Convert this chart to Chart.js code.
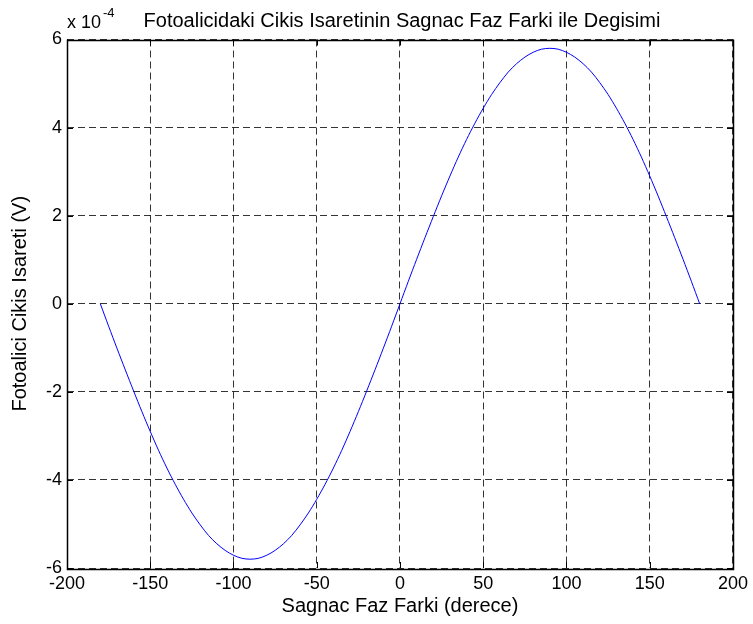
<!DOCTYPE html>
<html>
<head>
<meta charset="utf-8">
<script src="https://cdn.jsdelivr.net/npm/chart.js@4"></script>
<style>
  html, body { margin: 0; padding: 0; background: #fff; }
  #wrap { width: 753px; height: 624px; }
</style>
</head>
<body>
<div id="wrap"><canvas id="chart" width="753" height="624"></canvas></div>
<script>
// phase difference in degrees
const phaseDeg = [
  -180, -175, -170, -165, -160, -155, -150, -145, -140, -135, -130, -125,
  -120, -115, -110, -105, -100, -95, -90, -85, -80, -75, -70, -65, -60, -55,
  -50, -45, -40, -35, -30, -25, -20, -15, -10, -5, 0, 5, 10, 15, 20, 25, 30,
  35, 40, 45, 50, 55, 60, 65, 70, 75, 80, 85, 90, 95, 100, 105, 110, 115,
  120, 125, 130, 135, 140, 145, 150, 155, 160, 165, 170, 175, 180
];

// photodetector output, in units of 1e-4 V
const outputVolts = [
  0, -0.51, -1.01, -1.50, -1.98, -2.45, -2.90, -3.33, -3.73, -4.10, -4.44, -4.75,
  -5.02, -5.26, -5.45, -5.60, -5.71, -5.78, -5.80, -5.78, -5.71, -5.60, -5.45, -5.26,
  -5.02, -4.75, -4.44, -4.10, -3.73, -3.33, -2.90, -2.45, -1.98, -1.50, -1.01, -0.51,
  0, 0.51, 1.01, 1.50, 1.98, 2.45, 2.90, 3.33, 3.73, 4.10, 4.44, 4.75,
  5.02, 5.26, 5.45, 5.60, 5.71, 5.78, 5.80, 5.78, 5.71, 5.60, 5.45, 5.26,
  5.02, 4.75, 4.44, 4.10, 3.73, 3.33, 2.90, 2.45, 1.98, 1.50, 1.01, 0.51, 0
];

const xTicks = [-200, -150, -100, -50, 0, 50, 100, 150, 200];
const yTicks = [-6, -4, -2, 0, 2, 4, 6];

const chartTitle = "Fotoalicidaki Cikis Isaretinin Sagnac Faz Farki ile Degisimi";

const FONT = "'Liberation Sans', Arial, Helvetica, sans-serif";

// MATLAB-like frame: solid box, inward ticks, title and exponent label
const boxPlugin = {
    id: "matlabBox",
    afterDraw(chart) {
        const { ctx, chartArea: a, scales } = chart;
        ctx.save();
        ctx.strokeStyle = "#000";
        ctx.lineWidth = 1;
        ctx.setLineDash([]);
        ctx.beginPath();
        xTicks.forEach((v) => {
            const px = Math.round(scales.x.getPixelForValue(v)) + 0.5;
            ctx.moveTo(px, a.bottom); ctx.lineTo(px, a.bottom - 6);
            ctx.moveTo(px, a.top); ctx.lineTo(px, a.top + 6);
        });
        yTicks.forEach((v) => {
            const py = Math.round(scales.y.getPixelForValue(v)) + 0.5;
            ctx.moveTo(a.left, py); ctx.lineTo(a.left + 6, py);
            ctx.moveTo(a.right, py); ctx.lineTo(a.right - 6, py);
        });
        ctx.stroke();
        ctx.lineWidth = 1.5;
        ctx.strokeRect(Math.round(a.left) + 0.5, Math.round(a.top) + 0.5,
            Math.round(a.right - a.left), Math.round(a.bottom - a.top));

        ctx.fillStyle = "#000";
        ctx.textBaseline = "alphabetic";

        // title centred over the axes
        ctx.textAlign = "center";
        ctx.font = "20px " + FONT;
        ctx.fillText(chartTitle, (a.left + a.right) / 2 + 2, 27);

        // axis exponent
        ctx.textAlign = "left";
        ctx.font = "18px " + FONT;
        ctx.fillText("x 10", a.left, 28);
        const w = ctx.measureText("x 10").width;
        ctx.font = "13px " + FONT;
        ctx.fillText("-4", a.left + w + 2, 17);
        ctx.restore();
    },
};

document.addEventListener("DOMContentLoaded", function () {
    const ctx = document.getElementById("chart");

    new Chart(ctx, {
        type: "line",
        data: {
            datasets: [
                {
                    data: phaseDeg.map((x, i) => ({ x: x, y: outputVolts[i] })),
                    borderColor: "#0000ff",
                    borderWidth: 1,
                    pointRadius: 0,
                    tension: 0.3,
                    fill: false,
                },
            ],
        },
        options: {
            responsive: false,
            animation: false,
            devicePixelRatio: 1,
            layout: { padding: { top: 39.5, right: 17, bottom: 0, left: 0 } },
            plugins: {
                legend: { display: false },
                tooltip: { enabled: false },
                title: { display: false },
            },
            scales: {
                x: {
                    type: "linear",
                    min: -200,
                    max: 200,
                    afterBuildTicks: (s) => { s.ticks = xTicks.map((v) => ({ value: v })); },
                    afterFit: (s) => { s.height = 56; },
                    border: { display: false, dash: [7, 4] },
                    grid: {
                        color: "#000",
                        lineWidth: 0.8,
                        drawTicks: false,
                    },
                    ticks: {
                        color: "#000",
                        padding: 5,
                        maxRotation: 0,
                        font: { family: FONT, size: 18 },
                    },
                    title: {
                        display: true,
                        text: "Sagnac Faz Farki (derece)",
                        color: "#000",
                        font: { family: FONT, size: 20 },
                        padding: { top: 0, bottom: 6 },
                    },
                },
                y: {
                    type: "linear",
                    min: -6,
                    max: 6,
                    afterBuildTicks: (s) => { s.ticks = yTicks.map((v) => ({ value: v })); },
                    afterFit: (s) => { s.width = 67; },
                    border: { display: false, dash: [7, 4] },
                    grid: {
                        color: "#000",
                        lineWidth: 0.8,
                        drawTicks: false,
                    },
                    ticks: {
                        color: "#000",
                        padding: 5,
                        font: { family: FONT, size: 18 },
                    },
                    title: {
                        display: true,
                        text: "Fotoalici Cikis Isareti (V)",
                        color: "#000",
                        font: { family: FONT, size: 20 },
                        padding: { top: 8, bottom: 0 },
                    },
                },
            },
        },
        plugins: [
            {
                id: "whiteBg",
                beforeDraw(chart) {
                    const c = chart.ctx;
                    c.save();
                    c.fillStyle = "#fff";
                    c.fillRect(0, 0, chart.width, chart.height);
                    c.restore();
                },
            },
            boxPlugin,
        ],
    });
});
</script>
</body>
</html>
